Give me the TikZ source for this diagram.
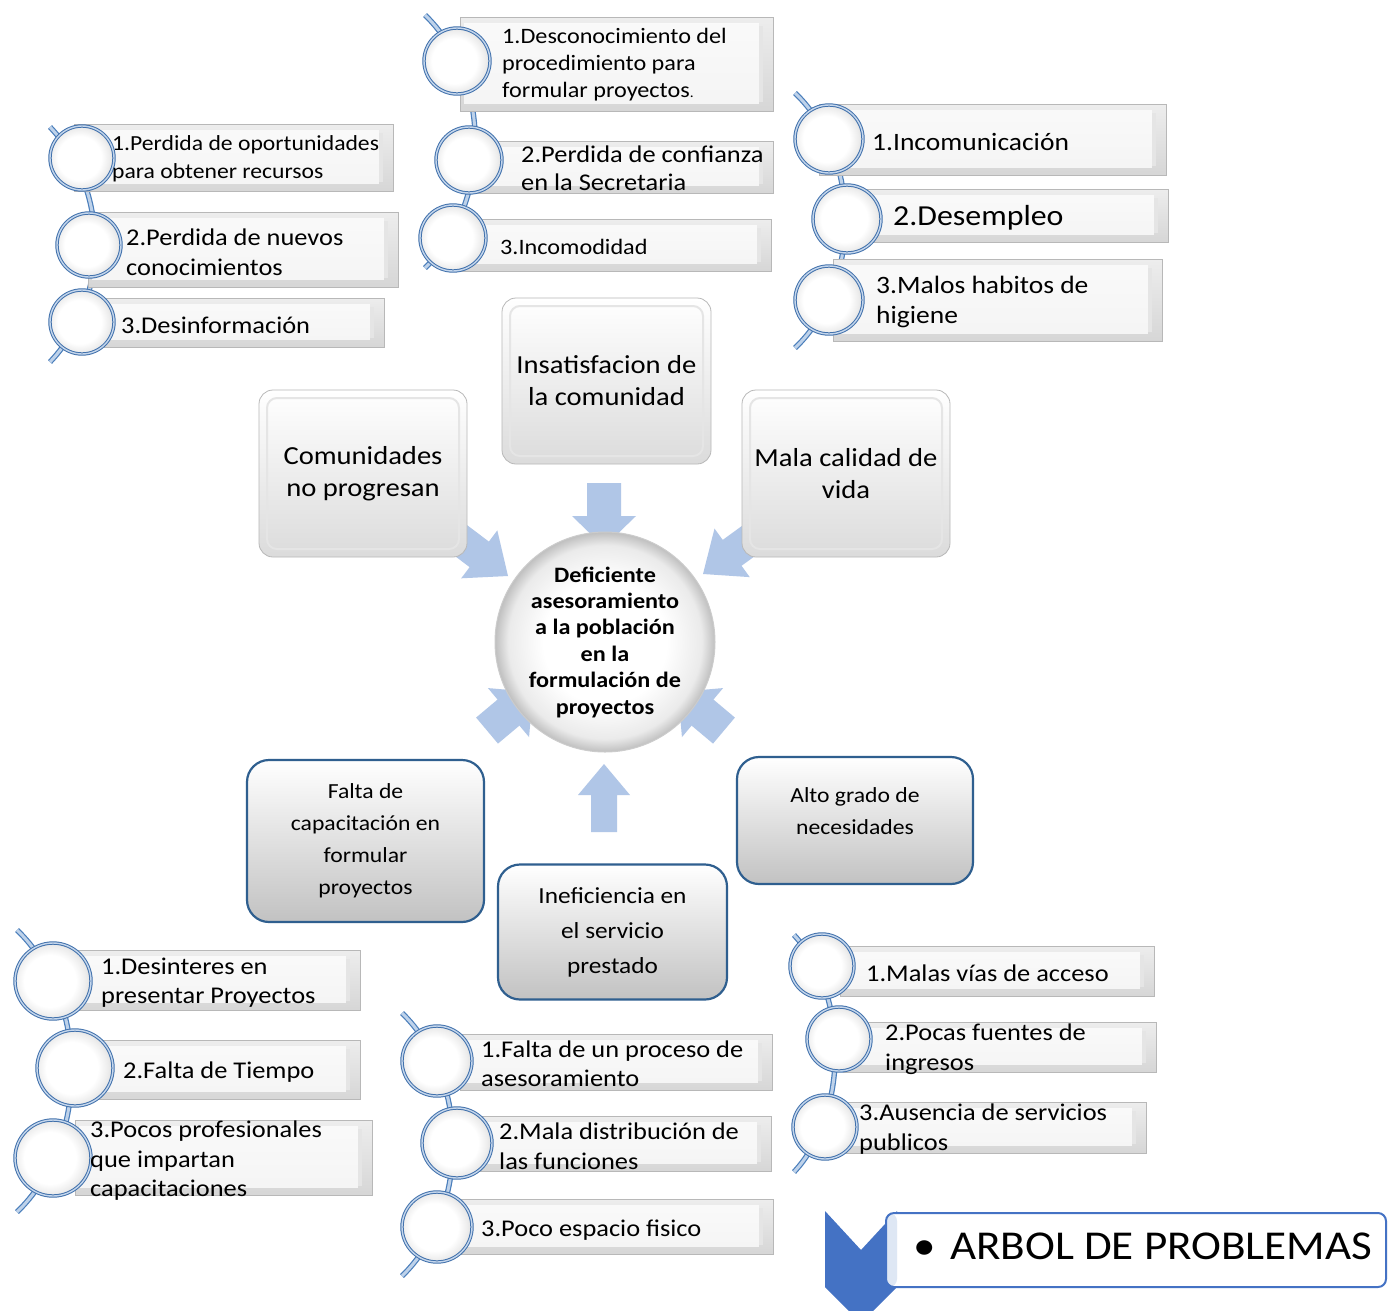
\documentclass[tikz,border=0pt]{standalone}
\usepackage{fontspec}
\setmainfont{Carlito}[FakeStretch=1.1]
\definecolor{ringblue}{RGB}{65,113,172}
\definecolor{ringlight}{RGB}{196,214,236}
\definecolor{lineblue}{RGB}{74,126,187}
\definecolor{linelight}{RGB}{190,210,234}
\definecolor{arrowblue}{RGB}{176,198,231}
\definecolor{causeblue}{RGB}{47,95,143}
\definecolor{titleblue}{RGB}{68,114,196}
\definecolor{stripblue}{RGB}{222,231,244}
\pgfdeclareradialshading{ballrim}{\pgfpoint{0bp}{0bp}}{color(0bp)=(white); color(14bp)=(white); color(22bp)=(black!8); color(25bp)=(black!25); color(50bp)=(black!25)}
\pgfdeclareradialshading{ringin}{\pgfpoint{-3bp}{0bp}}{color(0bp)=(white); color(17bp)=(white); color(23bp)=(black!7); color(25bp)=(black!10); color(50bp)=(black!10)}
\tikzset{
  listline/.style={draw=lineblue, line width=1.2pt, double=linelight, double distance=3pt},
  bevel/.style={draw=black!28, line width=0.8pt, top color=black!7, middle color=white, bottom color=black!16, inner sep=0pt, outer sep=0pt,
    path picture={
      \fill[white, opacity=0.75] ([shift={(4pt,-6pt)}]path picture bounding box.north west) rectangle ([shift={(-14pt,7pt)}]path picture bounding box.south east);
      \fill[black!10] ([shift={(-14pt,-9pt)}]path picture bounding box.north east) rectangle ([shift={(-10pt,9pt)}]path picture bounding box.south east);}},
  ringc/.style={circle, draw=ringblue, line width=1pt, double=ringlight, double distance=1.4pt, inner sep=0pt, shading=ringin},
  itext/.style={anchor=west, align=left, inner sep=0pt, yshift=-2pt},
  effect/.style={rectangle, rounded corners=14pt, draw=black!28, line width=0.8pt, top color=white, bottom color=black!14, align=center, inner sep=0pt,
    font=\fontsize{26}{32}\selectfont,
    path picture={\draw[black!10, line width=2pt, rounded corners=10pt] ([shift={(8pt,-8pt)}]path picture bounding box.north west) rectangle ([shift={(-8pt,8pt)}]path picture bounding box.south east);}},
  cause/.style={rectangle, rounded corners=22pt, draw=causeblue, line width=2.2pt, top color=white, bottom color=black!24, align=center, inner sep=0pt},
  center/.style={circle, draw=black!20, line width=1pt, shading=ballrim, inner sep=0pt, minimum size=220, align=center,
    font=\bfseries\fontsize{22}{26.4}\selectfont},
}
\newcommand\bbox[5]{\node[bevel, minimum width={#4-#2}, minimum height={#5-#3}] (#1) at ({(#2+#4)/2},{(#3+#5)/2}) {};}
\newcommand\ring[4]{\node[ringc, minimum size={2*#4}] (#1) at (#2,#3) {};}
\newcommand\itxt[6]{\node[itext, font=\fontsize{#4}{#5}\selectfont] (#1) at (#2,#3) {#6};}
\newcommand\barrow[7]{\begin{scope}[shift={(#1,#2)}, rotate=#3]
  \fill[arrowblue] (0,0) -- (-#5,#6) -- (-#5,#7) -- (-#4,#7) -- (-#4,-#7) -- (-#5,-#7) -- (-#5,-#6) -- cycle;
\end{scope}}
\begin{document}
\begin{tikzpicture}[x=1pt, y=-1pt]
\useasboundingbox[fill=white] (0,0) rectangle (1389,1310);

% ---------- list connector lines ----------
\coordinate (ulA) at (50,127);  \coordinate (ulB) at (50,362);
\coordinate (tmA) at (425,15);  \coordinate (tmB) at (425,268);
\coordinate (trA) at (795,93);  \coordinate (trB) at (795,348);
\coordinate (blA) at (17,930);  \coordinate (blB) at (17,1212);
\coordinate (bmA) at (402,1013); \coordinate (bmB) at (402,1276);
\coordinate (brA) at (794,935); \coordinate (brB) at (794,1172);
\draw[listline] (ulA) .. controls +(60,63) and +(60,-63) .. (ulB);
\draw[listline] (tmA) .. controls +(67,65) and +(67,-65) .. (tmB);
\draw[listline] (trA) .. controls +(67,64) and +(67,-64) .. (trB);
\draw[listline] (blA) .. controls +(73,70) and +(73,-70) .. (blB);
\draw[listline] (bmA) .. controls +(68,66) and +(68,-66) .. (bmB);
\draw[listline] (brA) .. controls +(55,59) and +(55,-59) .. (brB);

% ---------- bevel boxes ----------
\bbox{ulr1}{74}{124}{393}{191}
\bbox{ulr2}{88}{212}{398}{287}
\bbox{ulr3}{104}{298}{384}{347}
\bbox{tmr1}{460}{17}{773}{111}
\bbox{tmr2}{476}{141}{773}{193}
\bbox{tmr3}{452}{219}{771}{271}
\bbox{trr1}{819}{104}{1166}{175}
\bbox{trr2}{842}{189}{1168}{242}
\bbox{trr3}{833}{259}{1162}{341}
\bbox{blr1}{75}{950}{360}{1010}
\bbox{blr2}{88}{1040}{360}{1099}
\bbox{blr3}{75}{1120}{372}{1195}
\bbox{bmr1}{460}{1034}{772}{1090}
\bbox{bmr2}{474}{1116}{771}{1171}
\bbox{bmr3}{455}{1199}{773}{1254}
\bbox{brr1}{840}{946}{1154}{996}
\bbox{brr2}{843}{1022}{1156}{1072}
\bbox{brr3}{843}{1102}{1146}{1153}

% ---------- rings ----------
\ring{ulc1}{82}{158}{32}
\ring{ulc2}{89}{245}{32}
\ring{ulc3}{82}{322}{32}
\ring{tmc1}{457}{61}{33}
\ring{tmc2}{469}{160}{33}
\ring{tmc3}{453}{238}{33}
\ring{trc1}{829}{139}{34}
\ring{trc2}{847}{219}{34}
\ring{trc3}{829}{300}{34}
\ring{blc1}{53}{981}{38}
\ring{blc2}{75}{1068}{38}
\ring{blc3}{53}{1158}{38}
\ring{bmc1}{437}{1061}{35}
\ring{bmc2}{457}{1143}{35}
\ring{bmc3}{437}{1227}{35}
\ring{brc1}{822}{966}{32}
\ring{brc2}{839}{1039}{32}
\ring{brc3}{825}{1127}{32}

% ---------- list texts ----------
\itxt{ult1}{112}{157}{21.5}{28}{1.Perdida de oportunidades\\para obtener recursos}
\itxt{ult2}{126}{250}{24}{30}{2.Perdida de nuevos\\conocimientos}
\itxt{ult3}{121}{323}{24}{30}{3.Desinformación}
\itxt{tmt1}{502}{63}{22}{27}{1.Desconocimiento del\\procedimiento para\\formular proyectos{\fontsize{14}{14}\selectfont.}}
\itxt{tmt2}{521}{166}{24}{28}{2.Perdida de confianza\\en la Secretaria}
\itxt{tmt3}{500}{245}{22}{27}{3.Incomodidad}
\itxt{trt1}{872}{140}{25}{30}{1.Incomunicación}
\itxt{trt2}{893}{216}{29}{34}{2.Desempleo}
\itxt{trt3}{876}{300}{25}{30}{3.Malos habitos de\\higiene}
\itxt{blt1}{101}{981}{24}{29}{1.Desinteres en\\presentar Proyectos}
\itxt{blt2}{123}{1070}{24}{29}{2.Falta de Tiempo}
\itxt{blt3}{90}{1159}{24}{29.5}{3.Pocos profesionales\\que impartan\\capacitaciones}
\itxt{bmt1}{481}{1062}{24}{29}{1.Falta de un proceso de\\asesoramiento}
\itxt{bmt2}{499}{1144}{24}{30}{2.Mala distribución de\\las funciones}
\itxt{bmt3}{481}{1228}{24}{29}{3.Poco espacio fisico}
\itxt{brt1}{866}{971}{24}{29}{1.Malas vías de acceso}
\itxt{brt2}{885}{1047}{24}{30}{2.Pocas fuentes de\\ingresos}
\itxt{brt3}{859}{1127}{24}{30}{3.Ausencia de servicios\\publicos}

% ---------- block arrows (behind boxes and centre) ----------
\barrow{508}{576}{-37}{90}{36}{30}{16}
\barrow{703}{574}{-144}{90}{36}{30}{16}
\barrow{604}{547}{-90}{64}{31}{32}{17}
\barrow{533}{692}{40}{60}{32}{32}{17}
\barrow{678}{692}{140}{60}{32}{32}{17}
\barrow{604}{764}{90}{68}{31}{26}{13}

% ---------- effect boxes ----------
\node[effect, minimum width=209, minimum height=166] (eff1) at (606.5,381) {Insatisfacion de\\la comunidad};
\node[effect, minimum width=208, minimum height=167] (eff2) at (363,473.5) {Comunidades\\no progresan};
\node[effect, minimum width=208, minimum height=167] (eff3) at (846,473.5) {Mala calidad de\\vida};

% ---------- centre ----------
\node[center] (core) at (605,642) {Deficiente\\asesoramiento\\a la población\\en la\\formulación de\\proyectos};

% ---------- cause boxes ----------
\node[cause, minimum width=237, minimum height=162, font=\fontsize{21.5}{32}\selectfont] (cs1) at (365.5,841) {Falta de\\capacitación en\\formular\\proyectos};
\node[cause, minimum width=229, minimum height=135, font=\fontsize{23}{35}\selectfont] (cs2) at (612.5,932) {Ineficiencia en\\el servicio\\prestado};
\node[cause, minimum width=236, minimum height=127] (cs3) at (855,820.5) {};
\node[align=center, inner sep=0pt, font=\fontsize{21.5}{32}\selectfont] (cs3t) at (855,811) {Alto grado de\\necesidades};

% ---------- title ----------
\fill[titleblue] (825,1211) -- (861,1250) -- (897,1211) -- (897,1287) -- (861,1323) -- (825,1287) -- cycle;
\node[draw=titleblue, line width=2pt, fill=white, rounded corners=8pt, minimum width=500, minimum height=74, inner sep=0pt,
  path picture={\fill[stripblue] (path picture bounding box.north west) rectangle ([xshift=11pt]path picture bounding box.south west);}] (title) at (1136,1250) {};
\node[inner sep=0pt, font=\fontsize{41}{45}\selectfont] (titletext) at (1143,1246) {•\hspace{14pt}ARBOL DE PROBLEMAS};
\end{tikzpicture}
\end{document}
